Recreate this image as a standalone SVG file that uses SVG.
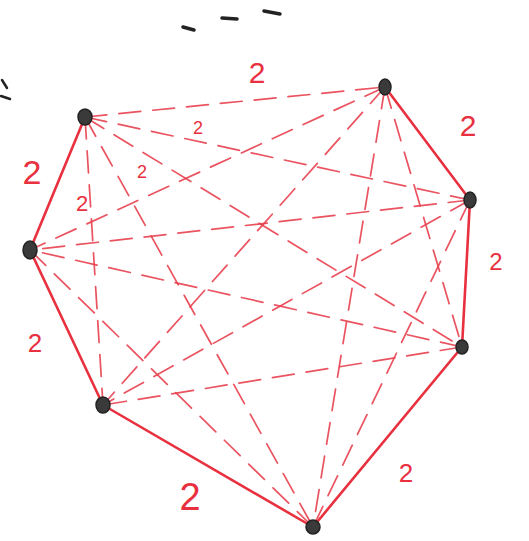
<svg xmlns="http://www.w3.org/2000/svg" width="529" height="541" viewBox="0 0 529 541">
<style>
.solid{stroke:#e8303f;stroke-width:2.6;fill:none;stroke-linecap:round}
.dash{stroke:#e8404f;stroke-width:1.7;fill:none;stroke-dasharray:22 12;stroke-linecap:round;opacity:0.9}
.lbl{fill:#e8303f;font-family:"Liberation Sans",Arial,sans-serif;text-anchor:middle}
.node{fill:#3a3a3a;stroke:#222;stroke-width:1.5}
.mark{stroke:#222;stroke-width:3.5;stroke-linecap:round;fill:none}
</style>
<rect width="529" height="541" fill="#ffffff"/>
<g id="marks">
<path class="mark" d="M183 27 L194 30"/>
<path class="mark" d="M222 18 L237 19"/>
<path class="mark" d="M264 11 L280 14"/>
<path class="mark" d="M2 80 L7 88" style="stroke-width:2.5"/>
<path class="mark" d="M1 96 L10 99" style="stroke-width:2.5"/>
</g>
<g id="connectors">
<!-- perimeter -->
<path class="dash" d="M85 117 L385 87"/>
<path class="solid" d="M385 87 L470 200"/>
<path class="solid" d="M470 200 L462 347"/>
<path class="solid" d="M462 347 L313 527"/>
<path class="solid" d="M313 527 L103 405"/>
<path class="solid" d="M103 405 L30 250"/>
<path class="solid" d="M30 250 L85 117"/>
<!-- interior -->
<path class="dash" d="M85 117 L470 200"/>
<path class="dash" d="M85 117 L462 347"/>
<path class="dash" d="M85 117 L313 527"/>
<path class="dash" d="M85 117 L103 405"/>
<path class="dash" d="M385 87 L462 347"/>
<path class="dash" d="M385 87 L313 527"/>
<path class="dash" d="M385 87 L103 405"/>
<path class="dash" d="M385 87 L30 250"/>
<path class="dash" d="M470 200 L313 527"/>
<path class="dash" d="M470 200 L103 405"/>
<path class="dash" d="M470 200 L30 250"/>
<path class="dash" d="M462 347 L103 405"/>
<path class="dash" d="M462 347 L30 250"/>
<path class="dash" d="M313 527 L30 250"/>
</g>
<g id="labels">
<text class="lbl" x="257" y="83" font-size="30">2</text>
<text class="lbl" x="468" y="136" font-size="30">2</text>
<text class="lbl" x="32" y="184" font-size="34">2</text>
<text class="lbl" x="198" y="134" font-size="18">2</text>
<text class="lbl" x="142" y="178" font-size="18">2</text>
<text class="lbl" x="82" y="211" font-size="22">2</text>
<text class="lbl" x="496" y="270" font-size="24">2</text>
<text class="lbl" x="35" y="352" font-size="26">2</text>
<text class="lbl" x="190" y="510" font-size="38">2</text>
<text class="lbl" x="406" y="482" font-size="26">2</text>
</g>
<g id="nA"><ellipse class="node" cx="85" cy="117" rx="7" ry="8"/></g>
<g id="nB"><ellipse class="node" cx="385" cy="87" rx="6" ry="8"/></g>
<g id="nC"><ellipse class="node" cx="470" cy="200" rx="6" ry="8"/></g>
<g id="nD"><ellipse class="node" cx="462" cy="347" rx="6" ry="7"/></g>
<g id="nE"><ellipse class="node" cx="313" cy="527" rx="7" ry="7"/></g>
<g id="nF"><ellipse class="node" cx="103" cy="405" rx="7" ry="8"/></g>
<g id="nG"><ellipse class="node" cx="30" cy="250" rx="7" ry="9"/></g>
</svg>
